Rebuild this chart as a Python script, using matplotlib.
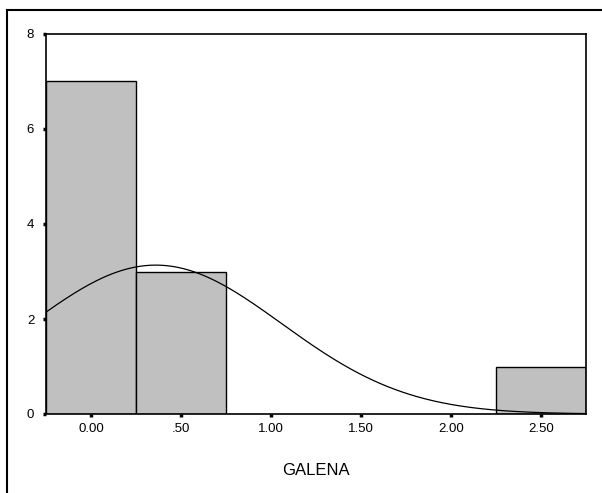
import numpy as np
import matplotlib.pyplot as plt
from matplotlib.lines import Line2D

plt.rcParams['font.family'] = ['Liberation Sans', 'DejaVu Sans']

# histogram bins (centers) and counts
bin_centers = [0.0, 0.5, 2.5]
counts = [7, 3, 1]
bin_width = 0.5

# fitted normal curve parameters
n_total = 11
curve_mean = 0.36
curve_sd = 0.70

x_ticks = [0.0, 0.5, 1.0, 1.5, 2.0, 2.5]
x_tick_labels = ['0.00', '.50', '1.00', '1.50', '2.00', '2.50']
y_ticks = [0, 2, 4, 6, 8]

fig = plt.figure(figsize=(6.02, 4.93), dpi=100)
ax = fig.add_axes([46 / 602, 1 - 414 / 493, 540 / 602, 380 / 493])

ax.bar(bin_centers, counts, width=bin_width, color='#c0c0c0',
       edgecolor='black', linewidth=1.0, zorder=2)

xs = np.linspace(-0.25, 2.75, 300)
ys = n_total * bin_width / (curve_sd * np.sqrt(2 * np.pi)) * \
    np.exp(-0.5 * ((xs - curve_mean) / curve_sd) ** 2)
ax.plot(xs, ys, color='black', linewidth=0.9, zorder=3)

ax.set_xlim(-0.25, 2.75)
ax.set_ylim(0, 8)
ax.set_xticks(x_ticks)
ax.set_xticklabels(x_tick_labels)
ax.set_yticks(y_ticks)
ax.tick_params(direction='out', length=2.5, width=2.5, labelsize=9.5, pad=4)
ax.tick_params(axis='y', pad=6)
for s in ax.spines.values():
    s.set_linewidth(1.2)

ax.set_xlabel('GALENA', fontsize=12, labelpad=20)

# outer frame (top and left edges visible)
fig.add_artist(Line2D([7 / 602, 1.0], [1 - 9.5 / 493] * 2,
                      transform=fig.transFigure, color='black', linewidth=1.5))
fig.add_artist(Line2D([7 / 602] * 2, [0.0, 1 - 9.5 / 493],
                      transform=fig.transFigure, color='black', linewidth=1.5))

fig.savefig('out.png', dpi=100)
